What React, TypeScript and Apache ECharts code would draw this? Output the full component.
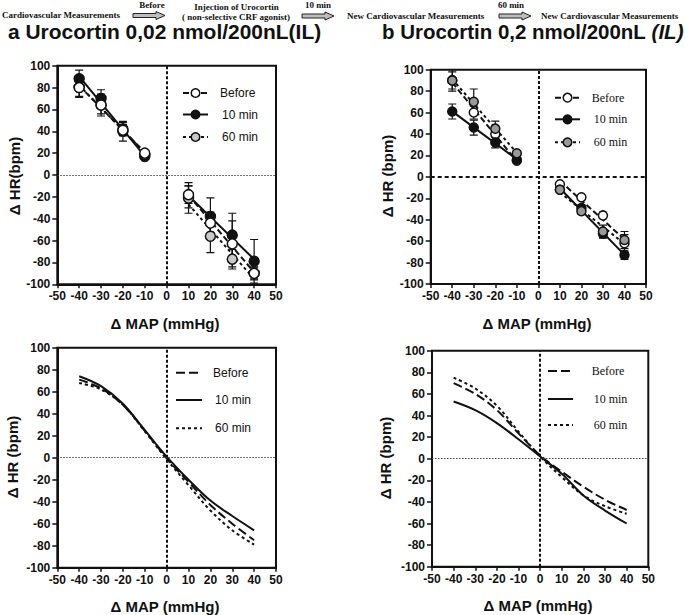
import React, { useEffect, useRef } from "react";
import * as echarts from "echarts";

// ---------- data ----------
const mapLevels = [-40, -30, -20, -10, 10, 20, 30, 40];
const curveMap = [-40, -30, -20, -10, 0, 10, 20, 30, 40];
const seriesNames = ["Before", "10 min", "60 min"];

// Panel a (0,02 nmol) – mean ΔHR and SEM
const aBefore = [80, 64, 41, 20, -18, -44, -63, -90];
const aBeforeErr = [9, 8, 5, 2, 8, 10, 21, 6];
const a10 = [88, 70, 40, 17, -20, -38, -55, -79];
const a10Err = [8, 8, 9, 2, 10, 17, 20, 20];
const a60 = [80, 64, 42, 19, -21, -56, -77, -90];
const a60Err = [8, 10, 6, 2, 14, 15, 9, 5];

// Panel b (0,2 nmol)
const bBefore = [90, 60, 40, 15, -7, -19, -36, -62];
const bBeforeErr = [8, 6, 5, 2, 2, 2, 3, 8];
const b10 = [61, 46, 32, 16, -12, -29, -53, -73];
const b10Err = [7, 7, 5, 2, 2, 3, 4, 4];
const b60 = [90, 70, 45, 22, -12, -32, -51, -59];
const b60Err = [10, 12, 7, 2, 2, 3, 6, 8];

// Sigmoid fitted curves (bottom panels)
const caBefore = [71, 63, 48, 24.5, -0.6, -22, -43, -60, -75];
const ca10 = [74, 65, 49, 25, 1, -20, -39, -53, -66];
const ca60 = [68, 62, 48, 24, -1.5, -25, -48, -66, -79];
const cbBefore = [70, 60, 45, 23.5, 3, -12, -26, -38, -47.5];
const cb10 = [53, 45, 33, 18, 2, -14, -34, -48, -60];
const cb60 = [75, 65, 49, 25, 2, -17, -34, -44, -51];

// ---------- styles ----------
const SANS = '"Liberation Sans", Arial, sans-serif';
const SERIF = '"Liberation Serif", "Times New Roman", serif';
const INK = "#111";
const DASH_BEFORE = [6, 3];
const DASH_60 = [3, 3];
const DASH_BEFORE_CURVE = [9, 4];

function fit(xs: number[], ys: number[]) {
  const n = xs.length;
  const mx = xs.reduce((s, v) => s + v, 0) / n;
  const my = ys.reduce((s, v) => s + v, 0) / n;
  let sxy = 0, sxx = 0;
  for (let i = 0; i < n; i++) {
    sxy += (xs[i] - mx) * (ys[i] - my);
    sxx += (xs[i] - mx) * (xs[i] - mx);
  }
  const k = sxy / sxx;
  return (x: number) => my + k * (x - mx);
}

function errorBars(gi: number, ys: number[], errs: number[], z: number) {
  return {
    type: "custom",
    xAxisIndex: gi,
    yAxisIndex: gi,
    clip: true,
    z,
    silent: true,
    encode: { x: 0, y: 1 },
    data: mapLevels.map((x, i) => [x, ys[i], errs[i]]),
    renderItem: (params: any, api: any) => {
      const x = api.value(0), y = api.value(1), e = api.value(2);
      const t = api.coord([x, y + e]);
      const b = api.coord([x, y - e]);
      const hw = 4;
      const st = { stroke: INK, lineWidth: 1.2 };
      return {
        type: "group",
        children: [
          { type: "line", shape: { x1: t[0], y1: t[1], x2: b[0], y2: b[1] }, style: st },
          { type: "line", shape: { x1: t[0] - hw, y1: t[1], x2: t[0] + hw, y2: t[1] }, style: st },
          { type: "line", shape: { x1: b[0] - hw, y1: b[1], x2: b[0] + hw, y2: b[1] }, style: st },
        ],
      };
    },
  };
}

function regLines(gi: number, ys: number[], dash: any, z: number) {
  const negX = mapLevels.slice(0, 4), negY = ys.slice(0, 4);
  const posX = mapLevels.slice(4), posY = ys.slice(4);
  const fn = fit(negX, negY), fp = fit(posX, posY);
  const ls = { color: INK, width: 2, type: dash };
  return [
    {
      type: "line", xAxisIndex: gi, yAxisIndex: gi, z, silent: true, symbol: "none",
      lineStyle: ls,
      data: [[negX[0], fn(negX[0])], [negX[3], fn(negX[3])]],
    },
    {
      type: "line", xAxisIndex: gi, yAxisIndex: gi, z, silent: true, symbol: "none",
      lineStyle: ls,
      data: [[posX[0], fp(posX[0])], [posX[3], fp(posX[3])]],
    },
  ];
}

function points(gi: number, name: string, ys: number[], fill: string, size: number, z: number) {
  return {
    type: "scatter", name, xAxisIndex: gi, yAxisIndex: gi, z, silent: true,
    symbol: "circle", symbolSize: size,
    itemStyle: { color: fill, borderColor: INK, borderWidth: 1.5, opacity: 1 },
    data: mapLevels.map((x, i) => [x, ys[i]]),
  };
}

function curve(gi: number, name: string, ys: number[], dash: any, z: number) {
  return {
    type: "line", name, xAxisIndex: gi, yAxisIndex: gi, z, silent: true,
    symbol: "none", smooth: 0.35,
    lineStyle: { color: INK, width: 2, type: dash },
    data: curveMap.map((x, i) => [x, ys[i]]),
  };
}

function zeroLines(gi: number, hStyle: any) {
  return {
    type: "line", xAxisIndex: gi, yAxisIndex: gi, data: [], silent: true, z: 1,
    markLine: {
      silent: true, symbol: "none", animation: false,
      label: { show: false },
      data: [
        { xAxis: 0, lineStyle: { color: INK, width: 2, type: [3, 2] } },
        { yAxis: 0, lineStyle: hStyle },
      ],
    },
  };
}

const axisCommon = {
  type: "value",
  splitLine: { show: false },
  axisLine: { show: true, onZero: false, lineStyle: { color: INK, width: 2 } },
  axisLabel: { color: INK, fontWeight: "bold", fontSize: 12, fontFamily: SANS },
};

function xAxis(gi: number) {
  return {
    ...axisCommon, gridIndex: gi, min: -50, max: 50, interval: 10,
    axisTick: { show: true, length: 4, lineStyle: { color: INK, width: 1.5 } },
    axisLabel: { ...axisCommon.axisLabel, margin: 6 },
  };
}
function yAxis(gi: number) {
  return {
    ...axisCommon, gridIndex: gi, min: -100, max: 100, interval: 20,
    axisTick: { show: true, length: 5, lineStyle: { color: INK, width: 1.5 } },
    axisLabel: { ...axisCommon.axisLabel, margin: 7 },
  };
}

function txt(x: number, y: number, text: string, opts: any = {}) {
  const align = opts.align || "left";
  return {
    type: "text", x, y, rotation: opts.rotation || 0, silent: true, z: 100,
    scaleX: opts.scaleX || 1,
    style: {
      text,
      fill: INK,
      fontSize: opts.size || 12,
      fontWeight: opts.weight || "normal",
      fontFamily: opts.family || SANS,
      fontStyle: opts.style || "normal",
      align, textAlign: align,
      verticalAlign: "middle", textVerticalAlign: "middle",
      rich: opts.rich,
    },
  };
}

function arrow(x0: number, y: number) {
  return {
    type: "polygon", silent: true, z: 100,
    shape: {
      points: [
        [x0, y - 2], [x0 + 23, y - 2], [x0 + 23, y - 4], [x0 + 32, y],
        [x0 + 23, y + 4], [x0 + 23, y + 2], [x0, y + 2],
      ],
    },
    style: { fill: "#bdbdbd", stroke: "#222", lineWidth: 1 },
  };
}

function legend(x1: number, x2: number, ys: number[], textX: number, family: string, markers: string[] | null, dashes: any[]) {
  const els: any[] = [];
  ys.forEach((y, i) => {
    els.push({
      type: "line", silent: true, z: 100,
      shape: { x1, y1: y, x2, y2: y },
      style: { stroke: INK, lineWidth: 2, lineDash: dashes[i] },
    });
    if (markers) {
      els.push({
        type: "circle", silent: true, z: 101,
        shape: { cx: (x1 + x2) / 2, cy: y, r: 4.3 },
        style: { fill: markers[i], stroke: INK, lineWidth: 1.5 },
      });
    }
    els.push(txt(textX + (i === 0 ? 0 : 2), y, seriesNames[i], { family, size: 12 }));
  });
  return els;
}

export default function App() {
  const ref = useRef<HTMLDivElement>(null);
  useEffect(() => {
    if (!ref.current) return;
    const chart = echarts.init(ref.current, undefined, { renderer: "svg" });
    const grayA = "#c9c9c9";
    const grayB = "#999999";
    const grids = [
      { left: 57.3, top: 65.7, width: 218.7, height: 218.6 },
      { left: 430.7, top: 69.7, width: 215.3, height: 214.3 },
      { left: 57.3, top: 347.7, width: 218.7, height: 220 },
      { left: 432, top: 350.7, width: 216.3, height: 216 },
    ].map((g) => ({ ...g, show: true, borderColor: INK, borderWidth: 2, backgroundColor: "#fff" }));

    const thinDot = { color: "#444", width: 1, type: [1.5, 1.5] };
    const thickDash = { color: INK, width: 1.8, type: [4, 3] };

    const series: any[] = [
      zeroLines(0, thinDot),
      zeroLines(1, thickDash),
      zeroLines(2, thinDot),
      zeroLines(3, thinDot),
      // panel a top
      ...regLines(0, aBefore, DASH_BEFORE, 2),
      ...regLines(0, a10, "solid", 2),
      ...regLines(0, a60, DASH_60, 2),
      errorBars(0, aBefore, aBeforeErr, 3),
      errorBars(0, a10, a10Err, 3),
      errorBars(0, a60, a60Err, 3),
      points(0, "10 min", a10, INK, 10, 5),
      points(0, "60 min", a60, grayA, 10, 6),
      points(0, "Before", aBefore, "#fff", 10, 7),
      // panel b top
      ...regLines(1, bBefore, DASH_BEFORE, 2),
      ...regLines(1, b10, "solid", 2),
      ...regLines(1, b60, DASH_60, 2),
      errorBars(1, bBefore, bBeforeErr, 3),
      errorBars(1, b10, b10Err, 3),
      errorBars(1, b60, b60Err, 3),
      points(1, "Before", bBefore, "#fff", 9, 5),
      points(1, "10 min", b10, INK, 9, 6),
      points(1, "60 min", b60, grayB, 9, 7),
      // bottom curves
      curve(2, "Before", caBefore, DASH_BEFORE_CURVE, 3),
      curve(2, "10 min", ca10, "solid", 3),
      curve(2, "60 min", ca60, DASH_60, 3),
      curve(3, "Before", cbBefore, DASH_BEFORE_CURVE, 3),
      curve(3, "10 min", cb10, "solid", 3),
      curve(3, "60 min", cb60, DASH_60, 3),
    ];

    const hdr = { family: SERIF, weight: "bold", size: 9 };
    const graphic: any[] = [
      // protocol header
      txt(2, 15, "Cardiovascular Measurements", hdr),
      arrow(133, 15.5),
      txt(152, 5, "Before", { ...hdr, align: "center" }),
      txt(236.5, 6.5, "Injection of Urocortin", { ...hdr, align: "center" }),
      txt(236, 16.5, "( non-selective CRF agonist)", { ...hdr, align: "center" }),
      arrow(302, 16),
      txt(318, 4.5, "10 min", { ...hdr, align: "center" }),
      txt(347, 16, "New Cardiovascular Measurements", hdr),
      arrow(499, 16),
      txt(511, 5, "60 min", { ...hdr, align: "center" }),
      txt(541, 16, "New Cardiovascular Measurements", hdr),
      // panel titles
      txt(8, 32.5, "a Urocortin 0,02 nmol/200nL(IL)", { size: 19.5, weight: "bold", scaleX: 1.075 }),
      txt(382, 32.5, "{n|b Urocortin 0,2 nmol/200nL }{i|(IL)}", {
        size: 19.5, weight: "bold", scaleX: 1.05,
        rich: {
          n: { fontSize: 19.5, fontWeight: "bold", fontFamily: SANS, fill: INK, color: INK },
          i: { fontSize: 19.5, fontWeight: "bold", fontStyle: "italic", fontFamily: SANS, fill: INK, color: INK },
        },
      }),
      // axis titles
      txt(14, 176, "Δ HR(bpm)", { size: 15, weight: "bold", align: "center", rotation: Math.PI / 2 }),
      txt(387, 176, "Δ HR (bpm)", { size: 15, weight: "bold", align: "center", rotation: Math.PI / 2 }),
      txt(12, 457, "Δ HR (bpm)", { size: 15, weight: "bold", align: "center", rotation: Math.PI / 2 }),
      txt(385, 458, "Δ HR (bpm)", { size: 15, weight: "bold", align: "center", rotation: Math.PI / 2 }),
      txt(165, 323, "Δ MAP (mmHg)", { size: 15, weight: "bold", align: "center" }),
      txt(537, 323, "Δ MAP (mmHg)", { size: 15, weight: "bold", align: "center" }),
      txt(165, 606, "Δ MAP (mmHg)", { size: 15, weight: "bold", align: "center" }),
      txt(538, 605, "Δ MAP (mmHg)", { size: 15, weight: "bold", align: "center" }),
      // legends
      ...legend(183, 208, [93, 114.5, 137], 220, SANS, ["#fff", INK, grayA], [DASH_BEFORE, null, DASH_60]),
      ...legend(555, 580, [97.7, 119.3, 142.3], 591.7, SERIF, ["#fff", INK, grayB], [DASH_BEFORE, null, DASH_60]),
      ...legend(176, 202, [372.7, 400, 428.3], 213, SANS, null, [DASH_BEFORE_CURVE, null, DASH_60]),
      ...legend(548, 573, [371, 399, 425], 591.7, SERIF, null, [DASH_BEFORE_CURVE, null, DASH_60]),
    ];

    chart.setOption({
      animation: false,
      backgroundColor: "#fff",
      grid: grids,
      xAxis: [0, 1, 2, 3].map(xAxis),
      yAxis: [0, 1, 2, 3].map(yAxis),
      series,
      graphic,
    });
    return () => chart.dispose();
  }, []);
  return (
    <div
      ref={ref}
      style={{ position: "absolute", left: 0, top: 0, width: 685, height: 615, background: "#fff" }}
    />
  );
}
